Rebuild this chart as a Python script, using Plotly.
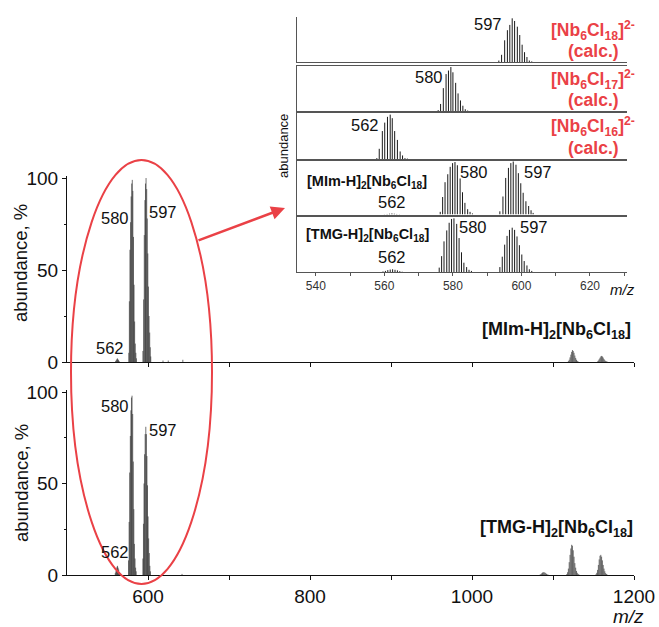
import plotly.graph_objects as go

W, H = 659, 627

# ---------------- data ----------------
# calculated isotope patterns, relative abundance (%)
calc18_mz = [593.4, 594.2, 595.1, 595.9, 596.6, 597.3, 598.0, 598.8, 599.5, 600.2, 600.9, 601.6, 602.3, 603.0]
calc18_ab = [4, 17, 50, 73, 85, 100, 94, 81, 62, 40, 23, 12, 4, 2]
calc17_mz = [575.7, 576.4, 577.2, 578.0, 578.7, 579.4, 580.0, 580.8, 581.5, 582.2, 582.9, 583.6, 584.3]
calc17_ab = [2, 16, 52, 84, 92, 100, 88, 64, 40, 24, 12, 4, 1]
calc16_mz = [557.8, 558.5, 559.4, 560.1, 560.9, 561.7, 562.3, 563.0, 563.8, 564.6, 565.3, 566.0, 566.7]
calc16_ab = [2, 23, 63, 82, 95, 100, 92, 63, 43, 17, 8, 2, 1]

# [MIm-H]2[Nb6Cl18] spectrum, abundance (%)
mim562_mz = [560.0, 560.8, 561.5, 562.2, 562.9, 563.6, 564.4]
mim562_ab = [0.5, 1.0, 1.5, 2.0, 1.5, 1.0, 0.5]
mim580_mz = [576.3, 577.0, 577.7, 578.5, 579.2, 579.9, 580.6, 581.3, 582.1, 582.8, 583.5, 584.3, 585.0, 585.7]
mim580_ab = [5, 33, 61, 76, 90, 97, 99, 93, 68, 42, 22, 10, 5, 2]
mim597_mz = [593.7, 594.6, 595.4, 596.2, 596.9, 597.6, 598.4, 599.1, 599.8, 600.5, 601.3, 602.1, 602.8, 603.4]
mim597_ab = [6, 34, 69, 88, 97, 100, 94, 78, 59, 41, 25, 16, 8, 3]
mim_minor_mz = [618.5, 625.0, 643.0]
mim_minor_ab = [0.8, 0.8, 1.2]
mim1125_mz = [1119, 1120, 1121, 1122, 1123, 1124, 1125, 1126, 1127, 1128, 1129, 1130, 1131]
mim1125_ab = [0.5, 1.2, 2.5, 4.0, 5.5, 6.5, 6.0, 5.0, 3.5, 2.2, 1.2, 0.6, 0.3]
mim1160_mz = [1155, 1156, 1157, 1158, 1159, 1160, 1161, 1162, 1163, 1164, 1165, 1166, 1167]
mim1160_ab = [0.3, 0.8, 1.5, 2.3, 3.0, 3.3, 3.0, 2.4, 1.6, 1.0, 0.5, 0.3, 0.2]

# [TMG-H]2[Nb6Cl18] spectrum, abundance (%)
tmg562_mz = [559.6, 560.3, 561.0, 561.7, 562.4, 563.1, 563.8, 564.5, 565.2]
tmg562_ab = [1.0, 2.0, 3.5, 4.5, 5.0, 4.0, 3.0, 1.5, 0.5]
tmg580_mz = [576.0, 576.7, 577.4, 578.2, 578.9, 579.6, 580.3, 581.1, 581.8, 582.5, 583.2, 584.0, 584.7, 585.4]
tmg580_ab = [8, 29, 56, 76, 90, 97, 98, 88, 62, 36, 17, 9, 4, 2]
tmg597_mz = [593.7, 594.4, 595.1, 595.8, 596.5, 597.3, 598.0, 598.7, 599.4, 600.1, 600.8, 601.6, 602.3, 603.0]
tmg597_ab = [9, 28, 50, 66, 77, 81, 77, 65, 49, 32, 20, 12, 5, 2]
tmg_minor_mz = [642.0]
tmg_minor_ab = [0.6]
tmg1088_mz = [1084, 1085, 1086, 1087, 1088, 1089, 1090, 1091, 1092, 1093, 1094]
tmg1088_ab = [0.2, 0.5, 0.9, 1.3, 1.5, 1.5, 1.3, 1.0, 0.6, 0.3, 0.2]
tmg1125_mz = [1117, 1118, 1119, 1120, 1121, 1122, 1123, 1124, 1125, 1126, 1127, 1128, 1129, 1130, 1131, 1132]
tmg1125_ab = [0.5, 1.5, 3.5, 7.0, 11.0, 14.5, 16.5, 16.0, 13.5, 10.0, 6.5, 4.0, 2.2, 1.2, 0.6, 0.3]
tmg1160_mz = [1153, 1154, 1155, 1156, 1157, 1158, 1159, 1160, 1161, 1162, 1163, 1164, 1165, 1166, 1167]
tmg1160_ab = [0.4, 1.2, 2.8, 5.5, 8.5, 10.5, 11.0, 10.0, 8.0, 5.5, 3.5, 2.0, 1.0, 0.5, 0.2]

main_xticks = [600, 700, 800, 900, 1000, 1100, 1200]
main_xlabels = ["600", "", "800", "", "1000", "", "1200"]
inset_xticks = [540, 550, 560, 570, 580, 590, 600, 610, 620, 630]
inset_xlabels = ["540", "", "560", "", "580", "", "600", "", "620", ""]


# ---------------- helpers ----------------
def sticks(pairs):
    xs, ys = [], []
    for mz, ab in pairs:
        for m, a in zip(mz, ab):
            xs += [m, m, None]
            ys += [0, a, None]
    return xs, ys


def px(x):
    return x / W


def py(y):
    return 1 - y / H


FONT = "Liberation Sans, Arial, sans-serif"
RED = "#ea4146"
MAIN_LINE = "rgba(35,35,35,0.8)"

fig = go.Figure()

# main spectra
mx, my = sticks([(mim562_mz, mim562_ab), (mim580_mz, mim580_ab), (mim597_mz, mim597_ab),
                 (mim_minor_mz, mim_minor_ab), (mim1125_mz, mim1125_ab), (mim1160_mz, mim1160_ab)])
fig.add_trace(go.Scatter(x=mx, y=my, mode="lines", line=dict(color=MAIN_LINE, width=0.8),
                         xaxis="x", yaxis="y", showlegend=False, hoverinfo="skip"))
tx, ty = sticks([(tmg562_mz, tmg562_ab), (tmg580_mz, tmg580_ab), (tmg597_mz, tmg597_ab),
                 (tmg_minor_mz, tmg_minor_ab), (tmg1088_mz, tmg1088_ab), (tmg1125_mz, tmg1125_ab),
                 (tmg1160_mz, tmg1160_ab)])
fig.add_trace(go.Scatter(x=tx, y=ty, mode="lines", line=dict(color=MAIN_LINE, width=0.8),
                         xaxis="x2", yaxis="y2", showlegend=False, hoverinfo="skip"))

# inset panels
inset_sets = [
    [(calc18_mz, calc18_ab)],
    [(calc17_mz, calc17_ab)],
    [(calc16_mz, calc16_ab)],
    [(mim562_mz, mim562_ab), (mim580_mz, mim580_ab), (mim597_mz, mim597_ab)],
    [(tmg562_mz, tmg562_ab), (tmg580_mz, tmg580_ab), (tmg597_mz, tmg597_ab)],
]
for i, s in enumerate(inset_sets):
    ix, iy = sticks(s)
    fig.add_trace(go.Scatter(x=ix, y=iy, mode="lines", line=dict(color="#1a1a1a", width=1),
                             xaxis="x%d" % (i + 3), yaxis="y%d" % (i + 3),
                             showlegend=False, hoverinfo="skip"))

# ---------------- layout ----------------
main_xdom = [px(67), px(634)]
layout = dict(
    width=W, height=H, margin=dict(l=0, r=0, t=0, b=0, pad=0, autoexpand=False),
    autosize=False, showlegend=False,
    paper_bgcolor="white", plot_bgcolor="rgba(0,0,0,0)",
    font=dict(family=FONT, color="#111", size=19),
)
axis_common = dict(showline=True, linecolor="#111", linewidth=1, showgrid=False, zeroline=False,
                   ticks="outside", ticklen=4, tickcolor="#111", tickwidth=1, automargin=False)
layout["xaxis"] = dict(axis_common, domain=main_xdom, range=[500, 1200], anchor="y",
                       tickmode="array", tickvals=main_xticks, showticklabels=False)
layout["xaxis2"] = dict(axis_common, domain=main_xdom, range=[500, 1200], anchor="y2",
                        tickmode="array", tickvals=main_xticks, ticktext=main_xlabels,
                        tickfont=dict(size=19, color="#111"))
ydom_top = [py(362), py(176.2)]
ydom_bot = [py(575), py(390.2)]
for name, dom, anc in [("yaxis", ydom_top, "x"), ("yaxis2", ydom_bot, "x2")]:
    layout[name] = dict(axis_common, domain=dom, range=[0, 101], anchor=anc,
                        tickmode="linear", tick0=0, dtick=50,
                        minor=dict(dtick=25, ticklen=2, ticks="outside", tickcolor="#111"),
                        tickfont=dict(size=19, color="#111"))

inset_xdom = [px(297), px(627)]
inset_ydoms = [(17, 62.3), (65.7, 111), (113.3, 159), (161, 214.5), (217.3, 272)]
inset_yr = [103, 103, 103, 101, 100]
for i, (t, b) in enumerate(inset_ydoms):
    n = i + 3
    xa = dict(showline=True, linecolor="#555", linewidth=1, showgrid=False, zeroline=False,
              domain=inset_xdom, range=[534.5, 630.8], anchor="y%d" % n,
              mirror=(i > 0), automargin=False)
    if i == 4:
        xa.update(ticks="outside", ticklen=3, tickcolor="#555", tickmode="array",
                  tickvals=inset_xticks, ticktext=inset_xlabels,
                  tickfont=dict(size=12, color="#333"))
    else:
        xa.update(ticks="", showticklabels=False)
    layout["xaxis%d" % n] = xa
    layout["yaxis%d" % n] = dict(showline=True, linecolor="#555", linewidth=1, showgrid=False,
                                 zeroline=False, domain=[py(b), py(t)], range=[0, inset_yr[i]],
                                 anchor="x%d" % n, ticks="", showticklabels=False, automargin=False)

fig.update_layout(**layout)


# ---------------- annotations ----------------
def ann(text, x, y, size, xanchor="center", color="#111", angle=0, yanchor="middle"):
    fig.add_annotation(text=text, x=px(x), y=py(y), xref="paper", yref="paper",
                       xanchor=xanchor, yanchor=yanchor, showarrow=False, textangle=angle,
                       font=dict(family=FONT, size=size, color=color))


ann("abundance, %", 21, 263, 18.5, angle=-90)
ann("abundance, %", 21, 483, 18.5, angle=-90)
ann("<i>m/z</i>", 628, 616, 19)

ann("580", 115, 218, 16.5)
ann("597", 163, 212, 16.5)
ann("562", 110, 348, 16.5)
ann("580", 115, 406, 16.5)
ann("597", 163, 430, 16.5)
ann("562", 115, 552, 16.5)

ann("<b>[MIm-H]<sub>2</sub>[Nb<sub>6</sub>Cl<sub>18</sub>]</b>", 633, 330, 18, xanchor="right")
ann("<b>[TMG-H]<sub>2</sub>[Nb<sub>6</sub>Cl<sub>18</sub>]</b>", 635, 528, 18, xanchor="right")

# inset text
ann("abundance", 284, 146, 13, angle=-90)
ann("<i>m/z</i>", 622, 289, 15)
ann("597", 488, 24, 16.5)
ann("580", 429, 77, 16.5)
ann("562", 365, 125, 16.5)
ann("580", 474, 172, 16.5)
ann("597", 538, 172, 16.5)
ann("562", 392, 202, 16.5)
ann("580", 473, 227, 16.5)
ann("597", 534, 227, 16.5)
ann("562", 392, 257, 16.5)
ann("<b>[MIm-H]<sub>2</sub>[Nb<sub>6</sub>Cl<sub>18</sub>]</b>", 305, 182, 14.5, xanchor="left")
ann("<b>[TMG-H]<sub>2</sub>[Nb<sub>6</sub>Cl<sub>18</sub>]</b>", 304, 235, 14.5, xanchor="left")

red_rows = [("18", 30, 51), ("17", 79, 100), ("16", 127, 148)]
for sub, y1, y2 in red_rows:
    ann("<b>[Nb<sub>6</sub>Cl<sub>%s</sub>]<sup>2-</sup></b>" % sub, 637, y1, 17.5, xanchor="right", color=RED)
    ann("<b>(calc.)</b>", 621, y2, 17.5, xanchor="right", color=RED)

# ellipse and arrow
fig.add_shape(type="circle", xref="paper", yref="paper", x0=px(71), x1=px(212), y0=py(584), y1=py(160),
              line=dict(color=RED, width=2))
fig.add_annotation(x=px(285), y=py(208), xref="paper", yref="paper", ax=-88, ay=33, axref="pixel",
                   ayref="pixel", text="", showarrow=True, arrowhead=2, arrowsize=1.1, arrowwidth=2.5,
                   arrowcolor=RED)

fig.write_html("out.html", config={"displayModeBar": False},
               post_script="document.body.style.margin='0';document.body.style.overflow='hidden';")
